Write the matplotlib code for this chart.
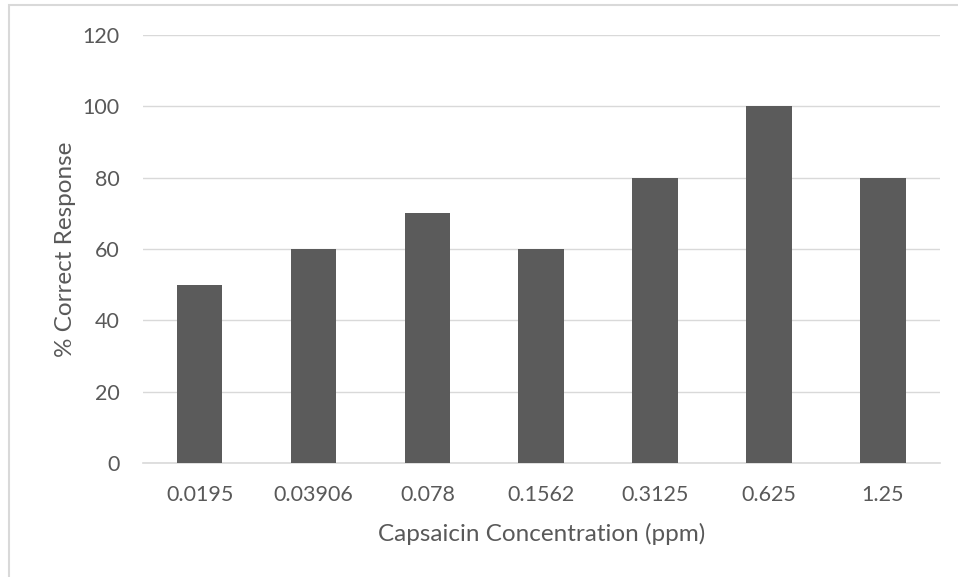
import matplotlib.pyplot as plt
from matplotlib.patches import Rectangle

concentrations = ['0.0195', '0.03906', '0.078', '0.1562', '0.3125', '0.625', '1.25']
correct_response = [50, 60, 70, 60, 80, 100, 80]
y_ticks = [0, 20, 40, 60, 80, 100, 120]

plt.rcParams['font.family'] = ['Lato', 'DejaVu Sans']
text_color = '#595959'
grid_color = '#d9d9d9'

fig = plt.figure(figsize=(9.58, 5.77), dpi=100)
ax = fig.add_axes([0.149, 0.1976, 0.832, 0.7416])

# chart border (partly outside the image, like the cropped screenshot)
fig.patches.append(Rectangle((9 / 958, -0.5), 2.0, 1.5 - 5 / 577, transform=fig.transFigure,
                             fill=False, edgecolor=grid_color, linewidth=1.5))

x = range(len(concentrations))
ax.bar(x, correct_response, width=0.4, color='#5b5b5b', zorder=3)

ax.set_xlim(-0.5, len(concentrations) - 0.5)
ax.set_ylim(0, 120)
ax.set_yticks(y_ticks)
ax.set_xticks(list(x))
ax.set_xticklabels(concentrations)
ax.yaxis.grid(True, color=grid_color, linewidth=1)
ax.set_axisbelow(True)

for side in ['top', 'right', 'left']:
    ax.spines[side].set_visible(False)
ax.spines['bottom'].set_color(grid_color)
ax.spines['bottom'].set_linewidth(1.2)

ax.tick_params(axis='both', length=0, labelsize=15.5, colors=text_color)
ax.tick_params(axis='x', pad=16)
ax.tick_params(axis='y', pad=16.5)
ax.set_xlabel('Capsaicin Concentration (ppm)', fontsize=17.5, color=text_color, labelpad=13)
ax.set_ylabel('% Correct Response', fontsize=17.5, color=text_color, labelpad=5)

fig.savefig('out.png', dpi=100)
